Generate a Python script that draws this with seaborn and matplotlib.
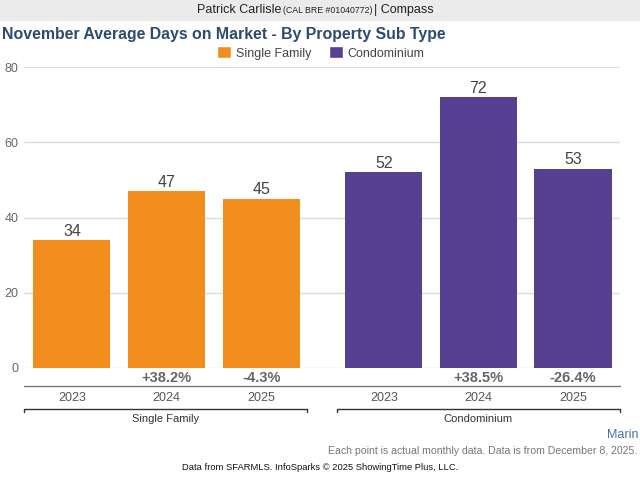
import pandas as pd
import seaborn as sb
import matplotlib.pyplot as plt
from matplotlib.patches import Patch

# dados
groups = ['Single Family', 'Condominium']
years = ['2023', '2024', '2025']
single_family = [34, 47, 45]
condominium = [52, 72, 53]
sf_change = ['', '+38.2%', '-4.3%']
condo_change = ['', '+38.5%', '-26.4%']
colors = {'Single Family': '#F28E1E', 'Condominium': '#574092'}

dados = pd.DataFrame({
    'type': [groups[0]] * 3 + [groups[1]] * 3,
    'year': years + years,
    'days': single_family + condominium,
    'change': sf_change + condo_change,
})

sb.set_style('white')
plt.rcParams['font.family'] = ['Liberation Sans', 'DejaVu Sans']

fig = plt.figure(figsize=(6.4, 4.8), dpi=100)
ax = fig.add_axes([24 / 640, 112 / 480, 596 / 640, 301 / 480])

sb.barplot(dados, x='type', y='days', hue='year', order=groups, hue_order=years,
           width=0.91, gap=0.185, legend=False, ax=ax, saturation=1)

# cor por grupo
for p in ax.patches:
    cx = p.get_x() + p.get_width() / 2
    p.set_facecolor(colors[groups[0]] if cx < 0.5 else colors[groups[1]])
    p.set_edgecolor('none')

for c in ax.containers:
    ax.bar_label(c, fmt='%d', padding=1, fontsize=11.5, color='#444444')

ax.set_ylim(0, 80)
ax.set_xlim(-0.457, 1.454)
ax.set_yticks([0, 20, 40, 60, 80])
ax.yaxis.grid(True, color='#dddddd', linewidth=1)
ax.set_axisbelow(True)
ax.tick_params(axis='y', length=0, labelsize=9, labelcolor='#666666', pad=4)
ax.set_xticks([])
ax.set_xlabel('')
ax.set_ylabel('')
sb.despine(ax=ax, left=True, bottom=True)

# rotulos abaixo das barras
tr = ax.get_xaxis_transform()
for hi, c in enumerate(ax.containers):
    for gi, p in enumerate(c.patches):
        cx = p.get_x() + p.get_width() / 2
        row = dados[(dados['type'] == groups[gi]) & (dados['year'] == years[hi])].iloc[0]
        ax.text(cx, -0.033, row['change'], transform=tr, ha='center', va='center',
                fontsize=10.5, fontweight='bold', color='#666666')
        ax.text(cx, -0.1, row['year'], transform=tr, ha='center', va='center',
                fontsize=9, color='#555555')

x0, x1 = ax.get_xlim()
ax.plot([x0, x1], [-0.06, -0.06], transform=tr, color='#777777', lw=1, clip_on=False)
for (a, b), name in zip([(x0, 0.45), (0.545, x1)], groups):
    ax.plot([a, a, b, b], [-0.145, -0.136, -0.136, -0.145], transform=tr,
            color='#333333', lw=1, clip_on=False)
    ax.text((a + b) / 2, -0.168, name, transform=tr, ha='center', va='center',
            fontsize=8, color='#333333')

# cabecalho
fig.patches.append(plt.Rectangle((0, 1 - 20 / 480), 1, 20 / 480, transform=fig.transFigure,
                                 color='#ebebeb', zorder=0))
fig.text(281 / 640, 1 - 10 / 480, 'Patrick Carlisle', ha='right', va='center', fontsize=9, color='#222222')
fig.text(283 / 640, 1 - 10.5 / 480, '(CAL BRE #01040772)', ha='left', va='center', fontsize=6.3, color='#222222')
fig.text(374 / 640, 1 - 10 / 480, '| Compass', ha='left', va='center', fontsize=9, color='#222222')

fig.text(2 / 640, 1 - 34 / 480, 'November Average Days on Market - By Property Sub Type',
         ha='left', va='center', fontsize=11.4, fontweight='bold', color='#2b4c6f')

handles = [Patch(facecolor=colors[g], label=g) for g in groups]
fig.legend(handles=handles, loc='center', bbox_to_anchor=(321 / 640, 1 - 53 / 480), ncol=2,
           frameon=False, fontsize=9, handlelength=1.1, handleheight=1.1, handletextpad=0.4,
           columnspacing=1.4, labelcolor='#444444')

# rodape
fig.text(638 / 640, 1 - 435 / 480, 'Marin', ha='right', va='center', fontsize=9, color='#4a6fa5')
fig.text(637 / 640, 1 - 451 / 480, 'Each point is actual monthly data. Data is from December 8, 2025.',
         ha='right', va='center', fontsize=7.55, color='#777777')
fig.text(0.5, 1 - 468 / 480, 'Data from SFARMLS. InfoSparks \u00a9 2025 ShowingTime Plus, LLC.',
         ha='center', va='center', fontsize=6.75, color='#111111')

fig.savefig('out.png', dpi=100)
